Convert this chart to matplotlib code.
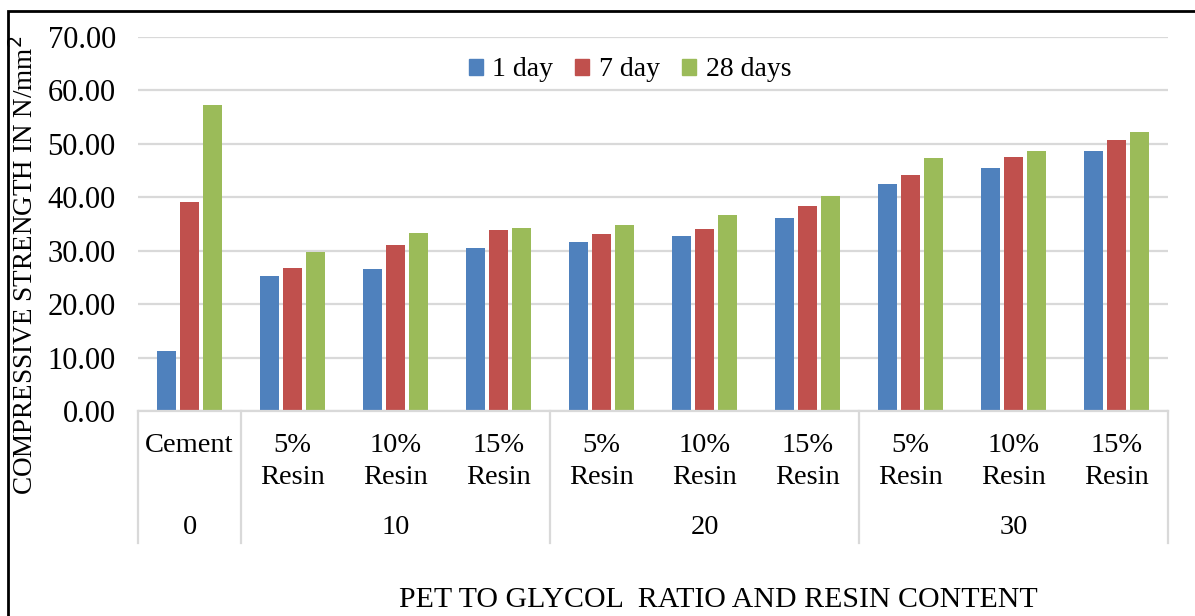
import matplotlib
matplotlib.use("Agg")
import matplotlib.pyplot as plt
from matplotlib.patches import Rectangle, Patch
from matplotlib.lines import Line2D
import matplotlib.transforms as mtransforms
import numpy as np

plt.rcParams['font.family'] = ['Liberation Serif', 'DejaVu Serif']

categories = ["Cement", "5%\nResin", "10%\nResin", "15%\nResin",
              "5%\nResin", "10%\nResin", "15%\nResin",
              "5%\nResin", "10%\nResin", "15%\nResin"]
groups = ["0", "10", "20", "30"]
group_spans = [(0, 0), (1, 3), (4, 6), (7, 9)]
series_names = ["1 day", "7 day", "28 days"]
day1 = [11.25, 25.2, 26.6, 30.5, 31.6, 32.8, 36.2, 42.5, 45.4, 48.75]
day7 = [39.1, 26.7, 31.1, 33.9, 33.1, 34.1, 38.4, 44.1, 47.5, 50.7]
day28 = [57.2, 29.8, 33.3, 34.3, 34.9, 36.6, 40.3, 47.4, 48.7, 52.25]
yticks = [0, 10, 20, 30, 40, 50, 60, 70]
colors = ["#4F81BD", "#C0504D", "#9BBB59"]

W, H = 1195, 616
fig = plt.figure(figsize=(W / 100, H / 100), dpi=100)
ax = fig.add_axes([138 / W, (H - 411) / H, 1030 / W, (411 - 37) / H])

x = np.arange(len(categories))
offs = [-0.223, 0, 0.223]
for vals, c, off, name in zip([day1, day7, day28], colors, offs, series_names):
    ax.bar(x + off, vals, width=0.178, color=c, label=name, zorder=3)

ax.set_xlim(-0.5, len(categories) - 0.5)
ax.set_ylim(0, 70)
ax.set_yticks(yticks)
ax.set_yticklabels([f"{v:.2f}" for v in yticks], fontsize=22)
ax.tick_params(axis='y', length=0, pad=16)
ax.tick_params(axis='x', length=0, labelbottom=False)
ax.grid(axis='y', color='#D9D9D9', lw=1.6, zorder=0)
for s in ['top', 'right', 'left']:
    ax.spines[s].set_visible(False)
ax.spines['bottom'].set_color('#D9D9D9')
ax.spines['bottom'].set_linewidth(1.6)
ax.spines['bottom'].set_zorder(4)


def ypix(py):
    return (H - py) / H


blend = mtransforms.blended_transform_factory(ax.transData, fig.transFigure)
for i, lab in enumerate(categories):
    ax.text(i, ypix(433), lab, transform=blend, ha='center', va='top',
            fontsize=20.5, linespacing=1.38)
for g, (a, b) in zip(groups, group_spans):
    ax.text((a + b) / 2, ypix(527), g, transform=blend, ha='center', va='center',
            fontsize=20.5)
for xb in [-0.5, 0.5, 3.5, 6.5, 9.5]:
    ax.add_line(Line2D([xb, xb], [ypix(411), ypix(543)], transform=blend,
                       color='#D9D9D9', lw=1.6, clip_on=False))

fig.text(718 / W, ypix(600), "PET TO GLYCOL  RATIO AND RESIN CONTENT",
         ha='center', va='center', fontsize=21.5)
fig.text(25 / W, ypix(265), "COMPRESSIVE STRENGTH IN N/mm$^2$",
         rotation=90, ha='center', va='center', fontsize=19.5)

handles = [Patch(color=c) for c in colors]
fig.legend(handles, series_names, loc='center', bbox_to_anchor=(630 / W, ypix(70)),
           ncol=3, frameon=False, fontsize=20, handlelength=0.5, handleheight=0.5,
           handletextpad=0.35, columnspacing=0.8)

fig.add_artist(Rectangle((7.5 / W, -0.1), 1.2, 1.1 - 11 / H, transform=fig.transFigure,
                         fill=False, ec='black', lw=2, clip_on=False))

fig.savefig("out.png", dpi=100)
